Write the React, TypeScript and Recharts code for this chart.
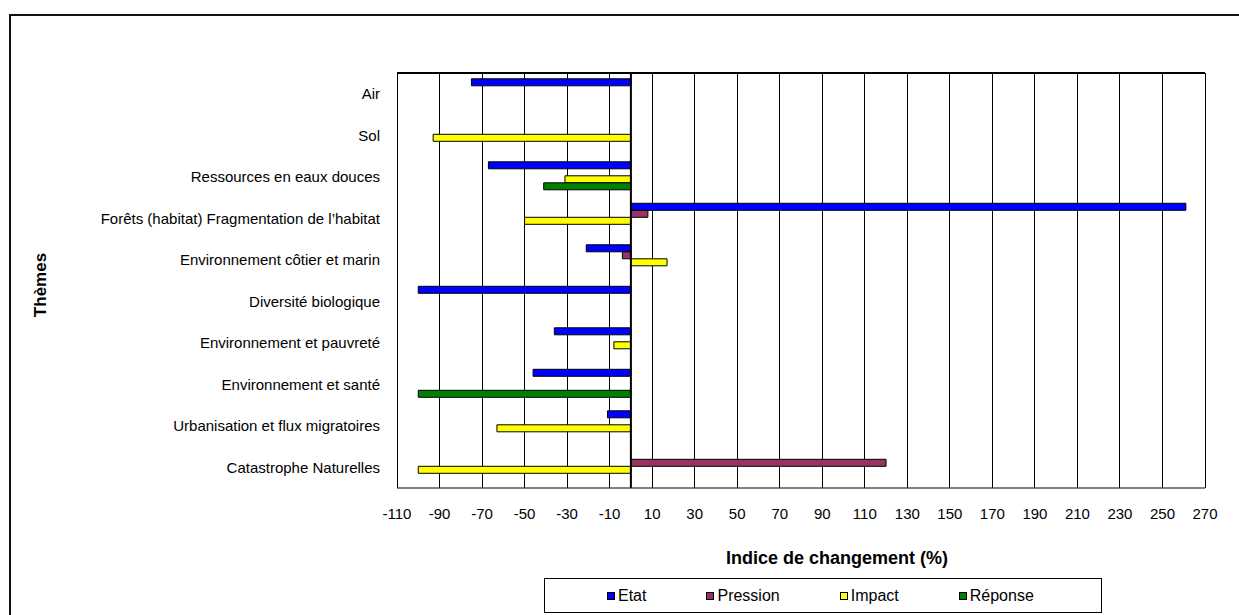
import React from 'react';
import { BarChart, Bar, XAxis, YAxis, CartesianGrid, ReferenceLine } from 'recharts';

const themes = [
  'Air',
  'Sol',
  'Ressources en eaux douces',
  'Forêts (habitat) Fragmentation de l’habitat',
  'Environnement côtier et marin',
  'Diversité biologique',
  'Environnement et pauvreté',
  'Environnement et santé',
  'Urbanisation et  flux migratoires',
  'Catastrophe Naturelles',
];

const etat = [-75, null, -67, 261, -21, -100, -36, -46, -11, null];
const pression = [null, null, null, 8, -4, null, null, null, null, 120];
const impact = [null, -93, -31, -50, 17, null, -8, null, -63, -100];
const reponse = [null, null, -41, null, null, null, null, -100, null, null];

const xTicks = [-110, -90, -70, -50, -30, -10, 10, 30, 50, 70, 90, 110, 130, 150, 170, 190, 210, 230, 250, 270];

const seriesNames = ['Etat', 'Pression', 'Impact', 'Réponse'];
const seriesKeys = ['etat', 'pression', 'impact', 'reponse'];
const seriesColors = ['#0000FF', '#993366', '#FFFF00', '#008000'];

const FONT = '"Liberation Sans", Arial, sans-serif';

export default function App() {
  const data = themes.map((t, i) => ({
    theme: t,
    etat: etat[i],
    pression: pression[i],
    impact: impact[i],
    reponse: reponse[i],
  }));

  return (
    <div
      style={{
        position: 'absolute',
        left: 0,
        top: 0,
        width: 1239,
        height: 615,
        overflow: 'hidden',
        background: '#fff',
        fontFamily: FONT,
      }}
    >
      <div
        style={{
          position: 'absolute',
          left: 9,
          top: 14,
          width: 1260,
          height: 640,
          borderTop: '2px solid #111',
          borderLeft: '2px solid #111',
          boxSizing: 'border-box',
        }}
      />
      <div style={{ position: 'absolute', left: 0, top: 0 }}>
        <BarChart
          width={1239}
          height={615}
          data={data}
          layout="vertical"
          margin={{ top: 72, right: 34, bottom: 97, left: 27 }}
          barCategoryGap="14%"
          barGap={0}
        >
          <CartesianGrid
            vertical
            horizontal={false}
            stroke="#000"
            strokeWidth={1}
            shapeRendering="crispEdges"
          />
          <CartesianGrid
            vertical={false}
            horizontal
            horizontalCoordinatesGenerator={({ offset }: any) => [offset.top]}
            stroke="#000"
            strokeWidth={2}
          />
          <XAxis
            type="number"
            domain={[-110, 270]}
            ticks={xTicks}
            allowDataOverflow
            interval={0}
            axisLine={{ stroke: '#000', strokeWidth: 1 }}
            tickLine={false}
            tickSize={6}
            tickMargin={14}
            height={30}
            tick={{ fill: '#000', fontSize: 15, fontFamily: FONT }}
          />
          <XAxis
            xAxisId="top"
            orientation="top"
            type="number"
            domain={[-110, 270]}
            ticks={xTicks}
            allowDataOverflow
            interval={0}
            height={1}
            axisLine={{ stroke: '#000', strokeWidth: 2 }}
            tickLine={{ stroke: '#000' }}
            tickSize={4}
            tick={false}
          />
          <YAxis
            type="category"
            dataKey="theme"
            width={370}
            axisLine={false}
            tickLine={false}
            tickSize={0}
            tickMargin={17}
            interval={0}
            tick={{ fill: '#000', fontSize: 15, fontFamily: FONT }}
          />
          {seriesKeys.map((k, i) => (
            <Bar
              key={k}
              dataKey={k}
              name={seriesNames[i]}
              fill={seriesColors[i]}
              stroke="#000"
              strokeWidth={1}
              isAnimationActive={false}
            />
          ))}
          <ReferenceLine x={0} stroke="#000" strokeWidth={2} />
        </BarChart>
      </div>
      <div
        style={{
          position: 'absolute',
          left: 40,
          top: 285,
          transform: 'translate(-50%, -50%) rotate(-90deg)',
          fontSize: 17,
          fontWeight: 'bold',
          whiteSpace: 'nowrap',
          lineHeight: 1,
        }}
      >
        Thèmes
      </div>
      <div
        style={{
          position: 'absolute',
          left: 837,
          top: 549,
          transform: 'translateX(-50%)',
          fontSize: 18,
          fontWeight: 'bold',
          whiteSpace: 'nowrap',
          lineHeight: 1,
        }}
      >
        Indice de changement (%)
      </div>
      <div
        style={{
          position: 'absolute',
          left: 544,
          top: 578,
          width: 558,
          height: 35,
          border: '1px solid #000',
          boxSizing: 'border-box',
          display: 'flex',
          alignItems: 'center',
          paddingLeft: 62,
          gap: 60,
          fontSize: 16,
        }}
      >
        {seriesNames.map((n, i) => (
          <div key={n} style={{ display: 'flex', alignItems: 'center', whiteSpace: 'nowrap' }}>
            <span
              style={{
                display: 'inline-block',
                width: 8,
                height: 8,
                background: seriesColors[i],
                border: '1px solid #000',
                boxSizing: 'border-box',
                marginRight: 3,
              }}
            />
            <span>{n}</span>
          </div>
        ))}
      </div>
    </div>
  );
}
